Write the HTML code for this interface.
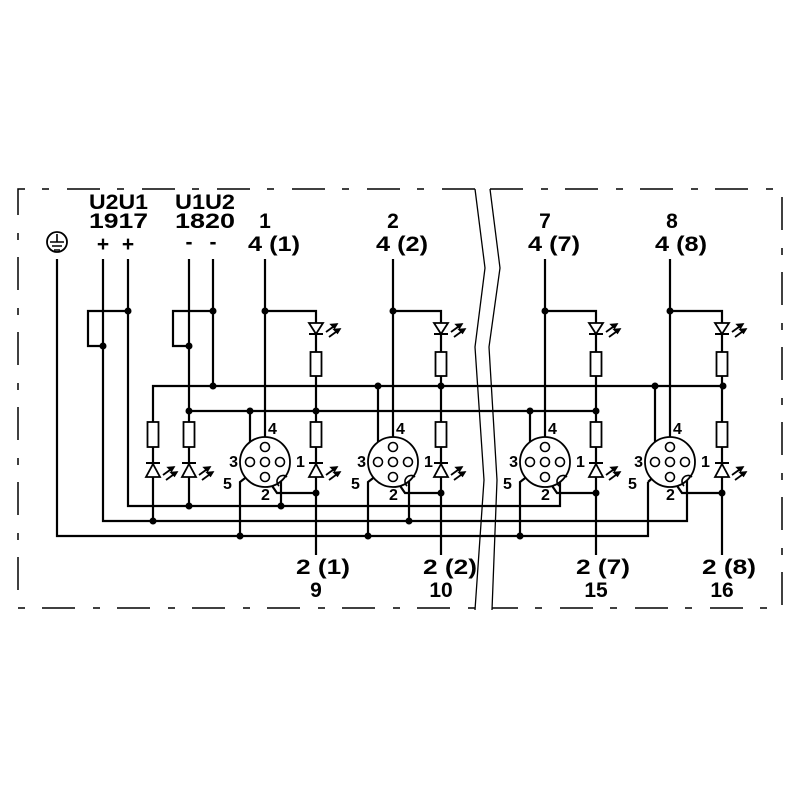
<!DOCTYPE html>
<html><head><meta charset="utf-8"><style>
html,body{margin:0;padding:0;background:#fff}
svg{display:block}
text{font-family:"Liberation Sans",Arial,sans-serif;font-weight:bold;fill:#000}
</style></head><body>
<svg width="800" height="800" viewBox="0 0 800 800" xmlns="http://www.w3.org/2000/svg">
<defs>
<g id="ledD">
 <path d="M-7,-11 H7 L0,0 Z" fill="#fff" stroke="#000" stroke-width="1.8"/>
 <path d="M-7,0 H7" stroke="#000" stroke-width="2"/>
 <path d="M10,-2 L21,-10 M13,3 L24,-5" stroke="#000" stroke-width="1.8"/>
 <path d="M21,-10 L15,-9.5 L18.5,-6 Z M24,-5 L18,-4.5 L21.5,-1 Z" fill="#000" stroke="#000" stroke-width="1.5"/>
</g>
<g id="ledU">
 <path d="M-7,0 H7 L0,-13 Z" fill="#fff" stroke="#000" stroke-width="1.8"/>
 <path d="M-7,-14 H7" stroke="#000" stroke-width="2"/>
 <path d="M10,-2 L21,-10 M13,3 L24,-5" stroke="#000" stroke-width="1.8"/>
 <path d="M21,-10 L15,-9.5 L18.5,-6 Z M24,-5 L18,-4.5 L21.5,-1 Z" fill="#000" stroke="#000" stroke-width="1.5"/>
</g>
<g id="conn" fill="#fff" stroke="#000">
 <circle cx="0" cy="0" r="25" stroke-width="1.8"/>
 <circle cx="0" cy="-15" r="4.5" stroke-width="1.6"/>
 <circle cx="-15" cy="0" r="4.5" stroke-width="1.6"/>
 <circle cx="0" cy="0" r="4.5" stroke-width="1.6"/>
 <circle cx="15" cy="0" r="4.5" stroke-width="1.6"/>
 <circle cx="0" cy="15" r="4.5" stroke-width="1.6"/>
 <path d="M22,15 A6,6 0 0 0 14,24" fill="none" stroke-width="1.6"/>
</g>
</defs>

<g stroke="#000" stroke-width="1.5" fill="none" stroke-dasharray="33 18 7 17">
 <path d="M475,189 H18 V608 H475"/>
 <path d="M490,189 H782 V608 H492"/>
</g>
<g stroke="#000" stroke-width="1.3" fill="none">
 <path d="M475,189 L485,268 L475,347 L484,480 L475,610"/>
 <path d="M490,189 L500,268 L489,347 L497,480 L492,610"/>
</g>

<circle cx="57" cy="242" r="10" fill="none" stroke="#000" stroke-width="1.8"/>
<path d="M57,234 V242 M50,242 H64 M52,246 H62 M54,250 H60" stroke="#000" stroke-width="1.6"/>

<g stroke="#000" stroke-width="2.2" fill="none">
 <path d="M57,259 V536 H648 V482"/>
 <path d="M103,259 V521 H687 V466"/>
 <path d="M128,259 V506 H560 V466"/>
 <path d="M189,259 V506"/>
 <path d="M213,259 V386"/>
 <path d="M128,311 H88 V346 H103"/>
 <path d="M213,311 H173 V346 H189"/>
 <path d="M153,521 V386 H723"/>
 <path d="M189,411 H596"/>
 <path d="M265,259 V443 M393,259 V443 M545,259 V443 M670,259 V443"/>
 <path d="M265,311 H316 V555 M393,311 H441 V555 M545,311 H596 V555 M670,311 H722 V555"/>
 <path d="M250,458 V411 M378,458 V386 M530,458 V411 M655,458 V386"/>
 <path d="M281,466 V506 M409,466 V521"/>
 <path d="M262,465 L240,482 V536 M390,465 L368,482 V536 M542,465 L520,482 V536 M667,465 L648,482"/>
 <path d="M268,480 L277,493 H316 M396,480 L405,493 H441 M548,480 L557,493 H596 M673,480 L682,493 H722"/>
</g>

<g fill="#fff" stroke="#000" stroke-width="1.8">
 <rect x="310.5" y="352" width="11" height="24"/><rect x="310.5" y="422" width="11" height="25"/>
 <rect x="435.5" y="352" width="11" height="24"/><rect x="435.5" y="422" width="11" height="25"/>
 <rect x="590.5" y="352" width="11" height="24"/><rect x="590.5" y="422" width="11" height="25"/>
 <rect x="716.5" y="352" width="11" height="24"/><rect x="716.5" y="422" width="11" height="25"/>
 <rect x="147.5" y="422" width="11" height="25"/><rect x="183.5" y="422" width="11" height="25"/>
</g>
<use href="#ledD" x="316" y="334"/><use href="#ledD" x="441" y="334"/><use href="#ledD" x="596" y="334"/><use href="#ledD" x="722" y="334"/>
<use href="#ledU" x="316" y="477"/><use href="#ledU" x="441" y="477"/><use href="#ledU" x="596" y="477"/><use href="#ledU" x="722" y="477"/>
<use href="#ledU" x="153" y="477"/><use href="#ledU" x="189" y="477"/>

<use href="#conn" x="265" y="462"/><use href="#conn" x="393" y="462"/><use href="#conn" x="545" y="462"/><use href="#conn" x="670" y="462"/>

<g fill="#000">
 <circle cx="128" cy="311" r="3.5"/><circle cx="103" cy="346" r="3.5"/>
 <circle cx="213" cy="311" r="3.5"/><circle cx="189" cy="346" r="3.5"/>
 <circle cx="213" cy="386" r="3.5"/><circle cx="189" cy="411" r="3.5"/>
 <circle cx="189" cy="506" r="3.5"/><circle cx="281" cy="506" r="3.5"/>
 <circle cx="153" cy="521" r="3.5"/><circle cx="409" cy="521" r="3.5"/>
 <circle cx="240" cy="536" r="3.5"/><circle cx="368" cy="536" r="3.5"/><circle cx="520" cy="536" r="3.5"/>
 <circle cx="265" cy="311" r="3.5"/><circle cx="393" cy="311" r="3.5"/><circle cx="545" cy="311" r="3.5"/><circle cx="670" cy="311" r="3.5"/>
 <circle cx="250" cy="411" r="3.5"/><circle cx="378" cy="386" r="3.5"/><circle cx="530" cy="411" r="3.5"/><circle cx="655" cy="386" r="3.5"/>
 <circle cx="316" cy="411" r="3.5"/><circle cx="441" cy="386" r="3.5"/><circle cx="596" cy="411" r="3.5"/><circle cx="723" cy="386" r="3.5"/>
 <circle cx="316" cy="493" r="3.5"/><circle cx="441" cy="493" r="3.5"/><circle cx="596" cy="493" r="3.5"/><circle cx="722" cy="493" r="3.5"/>
</g>

<g font-size="21" lengthAdjust="spacingAndGlyphs">
 <text x="89" y="209" textLength="59" lengthAdjust="spacingAndGlyphs">U2U1</text>
 <text x="89" y="228" textLength="59" lengthAdjust="spacingAndGlyphs">1917</text>
 <text x="103" y="251" text-anchor="middle">+</text><text x="128" y="251" text-anchor="middle">+</text>
 <text x="175" y="209" textLength="60" lengthAdjust="spacingAndGlyphs">U1U2</text>
 <text x="175" y="228" textLength="60" lengthAdjust="spacingAndGlyphs">1820</text>
 <text x="189" y="249" text-anchor="middle">-</text><text x="213" y="249" text-anchor="middle">-</text>
 <text x="265" y="228" text-anchor="middle">1</text><text x="248" y="251" textLength="52" lengthAdjust="spacingAndGlyphs">4 (1)</text>
 <text x="393" y="228" text-anchor="middle">2</text><text x="376" y="251" textLength="52" lengthAdjust="spacingAndGlyphs">4 (2)</text>
 <text x="545" y="228" text-anchor="middle">7</text><text x="528" y="251" textLength="52" lengthAdjust="spacingAndGlyphs">4 (7)</text>
 <text x="672" y="228" text-anchor="middle">8</text><text x="655" y="251" textLength="52" lengthAdjust="spacingAndGlyphs">4 (8)</text>
 <text x="296" y="574" textLength="54" lengthAdjust="spacingAndGlyphs">2 (1)</text><text x="316" y="597" text-anchor="middle">9</text>
 <text x="423" y="574" textLength="54" lengthAdjust="spacingAndGlyphs">2 (2)</text><text x="441" y="597" text-anchor="middle">10</text>
 <text x="576" y="574" textLength="54" lengthAdjust="spacingAndGlyphs">2 (7)</text><text x="596" y="597" text-anchor="middle">15</text>
 <text x="702" y="574" textLength="54" lengthAdjust="spacingAndGlyphs">2 (8)</text><text x="722" y="597" text-anchor="middle">16</text>
</g>
<g font-size="16">
 <text x="268" y="434">4</text><text x="238" y="467" text-anchor="end">3</text><text x="296" y="467">1</text><text x="223" y="489">5</text><text x="261" y="500">2</text>
 <text x="396" y="434">4</text><text x="366" y="467" text-anchor="end">3</text><text x="424" y="467">1</text><text x="351" y="489">5</text><text x="389" y="500">2</text>
 <text x="548" y="434">4</text><text x="518" y="467" text-anchor="end">3</text><text x="576" y="467">1</text><text x="503" y="489">5</text><text x="541" y="500">2</text>
 <text x="673" y="434">4</text><text x="643" y="467" text-anchor="end">3</text><text x="701" y="467">1</text><text x="628" y="489">5</text><text x="666" y="500">2</text>
</g>
</svg>
</body></html>
